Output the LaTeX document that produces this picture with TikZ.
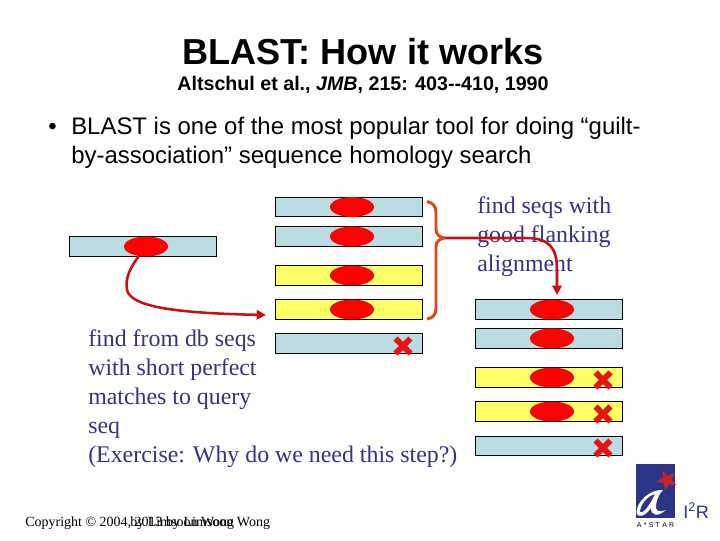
\documentclass[tikz,border=0pt]{standalone}
\usepackage{fontspec}
\setmainfont{Liberation Serif}
\setsansfont{Liberation Sans}
\usepackage{tikz}
\usetikzlibrary{arrows.meta,calc,positioning,shapes.geometric}
\definecolor{LabelNavy}{HTML}{333380}
\definecolor{BarBlue}{HTML}{B9DDE2}
\definecolor{BarYellow}{HTML}{FFFF66}
\definecolor{HitRed}{HTML}{FF0000}
\definecolor{CrossRed}{HTML}{E81414}
\definecolor{ArrowRed}{HTML}{C80F14}
\definecolor{BraceOrange}{HTML}{D9481C}
\definecolor{LogoBlue}{HTML}{2B3586}
\definecolor{LogoStar}{HTML}{C8232D}
\tikzset{
  seqbar/.style={draw=black,line width=0.9pt,minimum width=110.5pt,minimum height=14.6pt,inner sep=0pt,fill=#1},
  hit/.style={ellipse,fill=HitRed,minimum width=33pt,minimum height=15pt,inner sep=0pt},
  flow/.style={draw=ArrowRed,line width=1.9pt,-{Triangle[length=7pt,width=7pt]}},
  point/.style={anchor=base west,inner sep=0pt,font=\sffamily\fontsize{17.95}{22}\selectfont},
  note/.style={text=LabelNavy,align=left,anchor=north west,inner sep=0pt,font=\fontsize{17.9}{21.8}\selectfont},
  credit/.style={anchor=base west,inner sep=0pt,font=\fontsize{10.5}{12}\selectfont}
}
\newcommand{\reject}[2]{%
  \draw[CrossRed,line width=4.4pt] ($(#1,#2)+(-7.5,-7.5)$) -- ($(#1,#2)+(7.5,7.5)$);
  \draw[CrossRed,line width=4.4pt] ($(#1,#2)+(-7.5,7.5)$) -- ($(#1,#2)+(7.5,-7.5)$);%
}

\begin{document}
\begin{tikzpicture}[x=0.75pt,y=-0.75pt]
  \useasboundingbox (0,0) rectangle (720,540);
  % heading
  \node[font=\sffamily\bfseries\fontsize{27.1}{30}\selectfont] (title) at (363,52) {BLAST: How it works};
  \node[font=\sffamily\bfseries\fontsize{14.75}{16}\selectfont] (cite) at (363,85) {Altschul et al., \textit{JMB}, 215: 403-{}-410, 1990};
  \node[point] (dot) at (48,134) {•};
  \node[point] (pointA) at (71,134) {BLAST is one of the most popular tool for doing “guilt-};
  \node[point] (pointB) at (71,163) {by-association” sequence homology search};
  % query
  \node[seqbar=BarBlue] (query) at (143,246.5) {};
  \node[hit] (queryhit) at (146,246.5) {};
  % db hits
  \foreach \name/\ypos/\shade in {dbA/207/BarBlue,dbB/236.5/BarBlue,dbC/275.5/BarYellow,dbD/309.5/BarYellow,dbE/343.5/BarBlue}{
    \node[seqbar=\shade] (\name) at (349,\ypos) {};
  }
  \foreach \name in {dbA,dbB,dbC,dbD}{
    \node[hit] (\name hit) at ($(\name)+(3,0)$) {};
  }
  % filtered hits
  \foreach \name/\ypos/\shade in {keepA/309.5/BarBlue,keepB/338.5/BarBlue,keepC/377.5/BarYellow,keepD/411.5/BarYellow,keepE/446/BarBlue}{
    \node[seqbar=\shade] (\name) at (549,\ypos) {};
  }
  \foreach \name in {keepA,keepB,keepC,keepD}{
    \node[hit] (\name hit) at ($(\name)+(3,0)$) {};
  }
  \reject{403}{346}
  \reject{603}{380}
  \reject{603}{414}
  \reject{603}{448}
  % notes
  \node[note] (flanknote) at (477,196) {find seqs with\\good flanking\\alignment};
  \node[note] (findnote) at (88,329) {find from db seqs\\with short perfect\\matches to query\\seq\\(Exercise: Why do we need this step?)};
  % brace
  \coordinate (bracetip) at (445,238);
  \draw[BraceOrange,line width=2.2pt,rounded corners=1pt]
    (427,201.5) .. controls (433,203) and (436,206) .. (436,214)
    -- (436,228) .. controls (436,234) and (439,237) .. (bracetip)
    .. controls (439,239) and (436,242) .. (436,248)
    -- (436,306) .. controls (436,315) and (433,318) .. (427,319);
  % arrows
  \coordinate (queryend) at (266,315);
  \coordinate (keepend) at (557,295);
  \draw[flow] (queryhit) .. controls (130,268) and (125,278) .. (127,290) .. controls (131,306) and (170,313) .. (queryend);
  \draw[flow] (bracetip) -- (525,238) .. controls (548,238) and (557,246) .. (557,270) -- (keepend);
  % footer
  \node[credit] (creditA) at (25,526) {Copyright © 2004, 2013 by Limsoon Wong};
  \node[credit] (creditB) at (130,526) {by Limsoon Wong};
  % logo
  \node[fill=LogoBlue,minimum width=29.2pt,minimum height=40.5pt,inner sep=0pt] (logo) at (655.5,491) {};
  \node[star,star points=5,star point ratio=2.4,fill=LogoStar,minimum size=16pt,inner sep=0pt,rotate=25] (logostar) at (667,480) {};
  \fill[white,even odd rule] (663,490) .. controls (650,489) and (636,502) .. (636.5,513)
    .. controls (637,518) and (645,517) .. (651,508) .. controls (651,516) and (658,517) .. (666,510)
    .. controls (659,513) and (655,511) .. (656,505) .. controls (657,499) and (659,494) .. (663,490) -- cycle
    (655,494) .. controls (647,496) and (640,505) .. (640,512) .. controls (644,514) and (651,503) .. (655,494) -- cycle;
  \node[font=\sffamily\fontsize{5.2}{6}\selectfont,inner sep=0pt] (logotext) at (655.5,525) {A\,\,*\,\,S\,\,T\,\,A\,\,R};
  \node[anchor=base west,inner sep=0pt,text=LogoBlue,font=\sffamily\fontsize{13.5}{16}\selectfont] (logoname) at (683,518) {I\textsuperscript{2}R};
\end{tikzpicture}
\end{document}
